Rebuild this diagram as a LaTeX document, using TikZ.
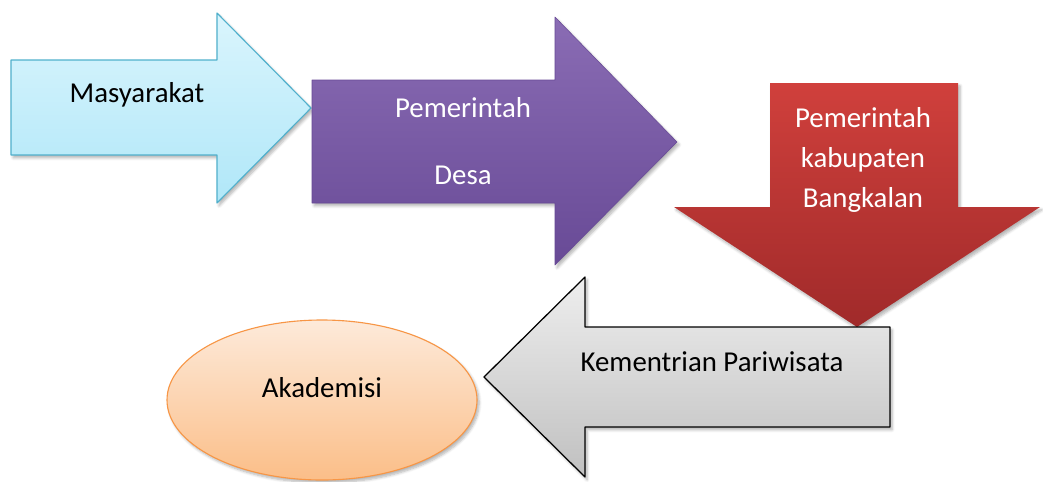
\documentclass[tikz,border=0pt]{standalone}
\usepackage{fontspec}
\setmainfont{Carlito}
\usepackage{tkz-euclide}
\usetikzlibrary{shadows.blur}
\definecolor{CyanTop}{RGB}{218,245,253}
\definecolor{CyanBot}{RGB}{176,231,248}
\definecolor{CyanLine}{RGB}{80,176,204}
\definecolor{PurpTop}{RGB}{138,108,180}
\definecolor{PurpBot}{RGB}{104,74,150}
\definecolor{RedTop}{RGB}{208,64,60}
\definecolor{RedBot}{RGB}{160,42,42}
\definecolor{GreyTop}{RGB}{238,238,238}
\definecolor{GreyBot}{RGB}{192,192,192}
\definecolor{OrTop}{RGB}{253,234,218}
\definecolor{OrBot}{RGB}{251,190,136}
\definecolor{OrLine}{RGB}{247,150,70}
\tikzset{
  lbl/.style={font=\fontsize{20.5}{28.5}\selectfont,align=center,inner sep=0pt},
  soft/.style={blur shadow={shadow xshift=1.5pt,shadow yshift=-2pt,shadow opacity=30,shadow blur steps=6}}
}

\begin{document}
\begin{tikzpicture}[x=0.025cm,y=-0.025cm]
\useasboundingbox (0,0) rectangle (1043,481);

% Masyarakat
\tkzDefPoints{11/60/m1,217/60/m2,217/13/m3,311/108/m4,217/203/m5,217/155/m6,11/155/m7}
% Pemerintah Desa
\tkzDefPoints{312/80/d1,555/80/d2,555/17/d3,677/142/d4,555/265/d5,555/203/d6,312/203/d7}
% Pemerintah kabupaten
\tkzDefPoints{770/83/k1,958/83/k2,958/207/k3,1040/207/k4,857/327/k5,674/207/k6,770/207/k7}
% Kementrian Pariwisata
\tkzDefPoints{890/327/p1,585/327/p2,585/277/p3,484/377/p4,585/477/p5,585/427/p6,890/427/p7}

\draw[soft,draw=OrLine,line width=0.8pt,top color=OrTop,bottom color=OrBot] (322,400) ellipse [x radius=155,y radius=80];

\tkzDrawPolygon[soft,draw=CyanLine,line width=0.8pt,top color=CyanTop,bottom color=CyanBot](m1,m2,m3,m4,m5,m6,m7)
\tkzDrawPolygon[soft,draw=PurpBot,line width=0.4pt,top color=PurpTop,bottom color=PurpBot](d1,d2,d3,d4,d5,d6,d7)
\tkzDrawPolygon[soft,draw=none,top color=RedTop,bottom color=RedBot](k1,k2,k3,k4,k5,k6,k7)
\tkzDrawPolygon[soft,draw=black,line width=0.9pt,top color=GreyTop,bottom color=GreyBot](p1,p2,p3,p4,p5,p6,p7)

\node[lbl] (masy) at (137,95) {Masyarakat};
\node[lbl,text=white,align=center] (desa) at (463,141) {Pemerintah\\[19pt]Desa};
\node[lbl,text=white] (kab) at (863,160) {Pemerintah\\kabupaten\\Bangkalan};
\node[lbl] (kem) at (712,362) {Kementrian Pariwisata};
\node[lbl] (akad) at (322,388) {Akademisi};

\end{tikzpicture}
\end{document}
